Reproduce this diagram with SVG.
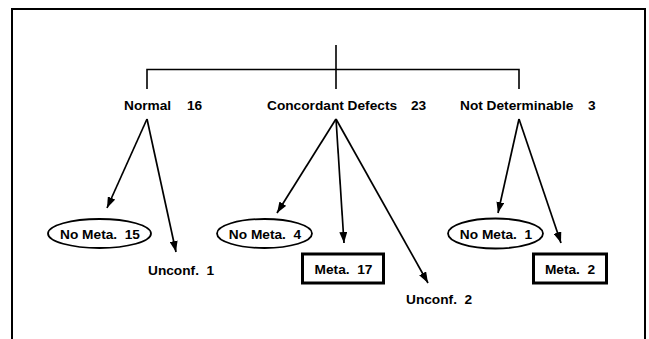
<svg xmlns="http://www.w3.org/2000/svg" width="649" height="339" viewBox="0 0 649 339">
  <style>
    text { font-family: "Liberation Sans", Arial, sans-serif; font-weight: bold; font-size: 13.7px; fill: #000; }
    .frame { fill: none; stroke: #000; stroke-width: 2; }
    .tree { fill: none; stroke: #000; stroke-width: 1.6; }
    .arrow { fill: none; stroke: #000; stroke-width: 1.7; marker-end: url(#ah); }
    .oval { fill: #fff; stroke: #000; stroke-width: 1.8; }
    .box { fill: #fff; stroke: #000; stroke-width: 3; }
  </style>
  <defs>
    <marker id="ah" markerUnits="userSpaceOnUse" markerWidth="12" markerHeight="8" refX="11" refY="4" orient="auto">
      <path d="M0,0 L11,4 L0,8 z" fill="#000"/>
    </marker>
  </defs>
  <rect width="649" height="339" fill="#fff"/>
  <path class="frame" d="M12,340 V9 H645 V340"/>

  <g id="connectors">
    <path class="tree" d="M336,45 V89 M147,89 V69.5 H519 V89"/>
    <line class="arrow" x1="147" y1="119" x2="107" y2="208"/>
    <line class="arrow" x1="147" y1="119" x2="176" y2="252"/>
    <line class="arrow" x1="336" y1="119" x2="277" y2="213"/>
    <line class="arrow" x1="336" y1="119" x2="344" y2="243"/>
    <line class="arrow" x1="336" y1="119" x2="428" y2="283"/>
    <line class="arrow" x1="519" y1="119" x2="498" y2="213"/>
    <line class="arrow" x1="519" y1="119" x2="561" y2="243"/>
  </g>

  <g id="normal">
    <text x="124" y="110">Normal</text>
    <text x="187" y="110">16</text>
  </g>
  <g id="concordant">
    <text x="267" y="110">Concordant Defects</text>
    <text x="411" y="110">23</text>
  </g>
  <g id="notdet">
    <text x="460" y="110">Not Determinable</text>
    <text x="588" y="110">3</text>
  </g>

  <g id="nometa15">
    <ellipse class="oval" cx="99.5" cy="233.5" rx="51.5" ry="14.5"/>
    <text x="100" y="239" text-anchor="middle">No Meta.&#160; 15</text>
  </g>
  <g id="unconf1">
    <text x="148" y="275">Unconf.&#160; 1</text>
  </g>
  <g id="nometa4">
    <ellipse class="oval" cx="264.5" cy="233.5" rx="47.5" ry="14.5"/>
    <text x="265" y="239" text-anchor="middle">No Meta.&#160; 4</text>
  </g>
  <g id="meta17">
    <rect class="box" x="302.5" y="254" width="81" height="29"/>
    <text x="343.5" y="274" text-anchor="middle">Meta.&#160; 17</text>
  </g>
  <g id="unconf2">
    <text x="406" y="304">Unconf.&#160; 2</text>
  </g>
  <g id="nometa1">
    <ellipse class="oval" cx="495.5" cy="233.5" rx="47.5" ry="15"/>
    <text x="496" y="239" text-anchor="middle">No Meta.&#160; 1</text>
  </g>
  <g id="meta2">
    <rect class="box" x="533.5" y="254" width="73" height="29"/>
    <text x="570" y="274" text-anchor="middle">Meta.&#160; 2</text>
  </g>
</svg>
